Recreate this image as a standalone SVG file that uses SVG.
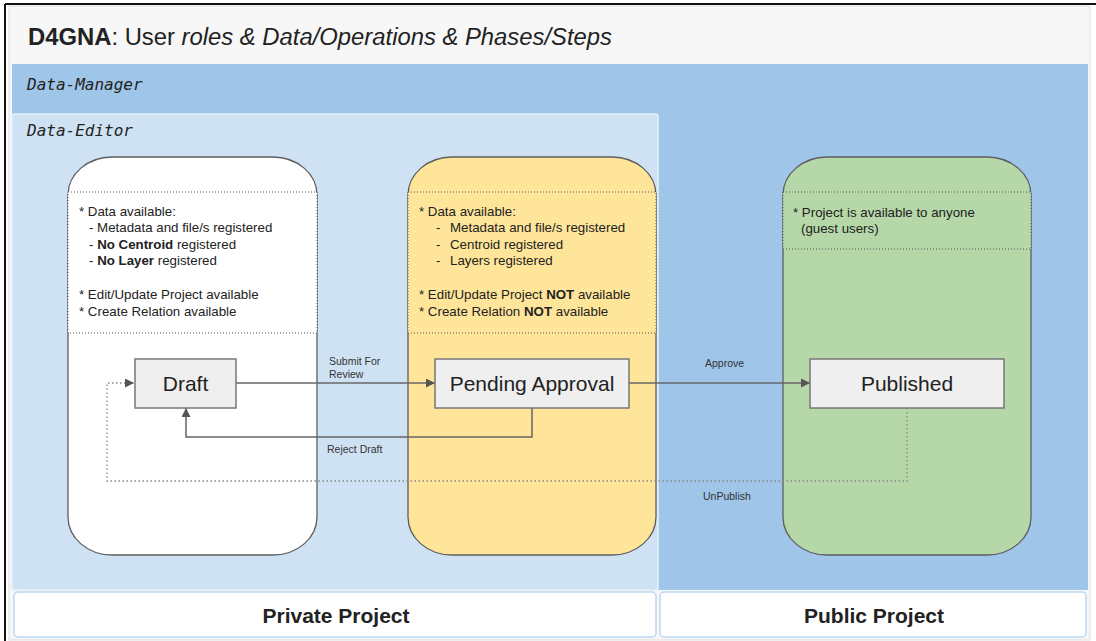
<svg xmlns="http://www.w3.org/2000/svg" width="1096" height="641" viewBox="0 0 1096 641">
<defs>
<marker id="arr" viewBox="0 0 10 10" refX="10" refY="5" markerWidth="9" markerHeight="9" markerUnits="userSpaceOnUse" orient="auto">
<path d="M0,0 L10,5 L0,10 z" fill="#555"/>
</marker>
<style>
text{font-family:"Liberation Sans",Arial,sans-serif;fill:#222}
.mono{font-family:"DejaVu Sans Mono","Liberation Mono",monospace;font-style:italic;font-size:16px;fill:#222}
.body{font-size:13.3px}
.lbl{font-size:10.5px;fill:#333}
.box{fill:#efefef;stroke:#777;stroke-width:1.5}
.boxt{font-size:21px;text-anchor:middle}
.card{stroke:#5e5e5e;stroke-width:1.3}
.sec{stroke:#555;stroke-width:1;stroke-dasharray:1 2}
.lane{fill:#fff;stroke:#bcd7ef;stroke-width:1.5}
.lanet{font-size:21px;font-weight:bold;text-anchor:middle}
.con{fill:none;stroke:#666;stroke-width:1.5}
.dot{fill:none;stroke:#888;stroke-width:1.3;stroke-dasharray:1.5 2.5}
</style>
</defs>

<g id="frame">
<rect x="0" y="0" width="1096" height="641" fill="#ffffff"/>
<rect x="9" y="6" width="1081" height="634" fill="#f7f7f7" stroke="#dddddd" stroke-width="1"/>
<line x1="5" y1="4" x2="1096" y2="4" stroke="#111" stroke-width="2"/>
<line x1="5" y1="4" x2="5" y2="641" stroke="#111" stroke-width="2"/>
<text x="28" y="45" font-size="23.5" textLength="584" lengthAdjust="spacingAndGlyphs"><tspan font-weight="bold">D4GNA</tspan>: User <tspan font-style="italic">roles &amp; Data/Operations &amp; Phases/Steps</tspan></text>
</g>

<g id="data-manager">
<rect x="12" y="64" width="1076" height="526" fill="#9fc5e8"/>
<text class="mono" x="27" y="90">Data-Manager</text>
</g>

<g id="data-editor">
<rect x="12" y="114" width="646" height="476" rx="2" fill="#cfe2f3" stroke="#e6f0fa" stroke-width="1.5"/>
<text class="mono" x="27" y="136">Data-Editor</text>
</g>

<g id="private-project">
<rect class="lane" x="14" y="592" width="642" height="45" rx="4"/>
<text class="lanet" x="336" y="623">Private Project</text>
</g>

<g id="public-project">
<rect class="lane" x="660" y="592" width="426" height="45" rx="4"/>
<text class="lanet" x="874" y="623">Public Project</text>
</g>

<g id="card-draft">
<rect class="card" x="68" y="157" width="249" height="398" rx="44" ry="38" fill="#ffffff"/>
<rect class="sec" x="68" y="192" width="249" height="141" fill="#ffffff"/>
<text class="body" x="79" y="216">* Data available:</text>
<text class="body" x="89" y="232">- Metadata and file/s registered</text>
<text class="body" x="89" y="249">- <tspan font-weight="bold">No Centroid</tspan> registered</text>
<text class="body" x="89" y="265">- <tspan font-weight="bold">No Layer</tspan> registered</text>
<text class="body" x="79" y="299">* Edit/Update Project available</text>
<text class="body" x="79" y="316">* Create Relation available</text>
</g>

<g id="card-pending">
<rect class="card" x="408" y="157" width="248" height="398" rx="44" ry="38" fill="#ffe599"/>
<rect class="sec" x="408" y="192" width="248" height="141" fill="#ffe599"/>
<text class="body" x="419" y="216">* Data available:</text>
<text class="body" x="436" y="232">-</text><text class="body" x="450" y="232">Metadata and file/s registered</text>
<text class="body" x="436" y="249">-</text><text class="body" x="450" y="249">Centroid registered</text>
<text class="body" x="436" y="265">-</text><text class="body" x="450" y="265">Layers registered</text>
<text class="body" x="419" y="299">* Edit/Update Project <tspan font-weight="bold">NOT</tspan> available</text>
<text class="body" x="419" y="316">* Create Relation <tspan font-weight="bold">NOT</tspan> available</text>
</g>

<g id="card-published">
<rect class="card" x="783" y="157" width="248" height="398" rx="44" ry="38" fill="#b6d7a8"/>
<rect class="sec" x="783" y="192" width="248" height="57" fill="#b6d7a8"/>
<text class="body" x="793" y="217">* Project is available to anyone</text>
<text class="body" x="801" y="233">(guest users)</text>
</g>

<g id="connectors">
<line class="con" x1="236" y1="383" x2="435" y2="383" marker-end="url(#arr)"/>
<line class="con" x1="629" y1="383" x2="810" y2="383" marker-end="url(#arr)"/>
<path class="con" d="M532,408 V437 H186 V408" marker-end="url(#arr)"/>
<path class="dot" d="M907,408 V481 H107 V383 H134" marker-end="url(#arr)"/>
<text class="lbl" x="329" y="365">Submit For</text>
<text class="lbl" x="329" y="378">Review</text>
<text class="lbl" x="705" y="367">Approve</text>
<text class="lbl" x="327" y="453">Reject Draft</text>
<text class="lbl" x="703" y="500">UnPublish</text>
</g>

<g id="node-draft">
<rect class="box" x="135" y="359" width="101" height="49"/>
<text class="boxt" x="185.5" y="391">Draft</text>
</g>

<g id="node-pending">
<rect class="box" x="435" y="359" width="194" height="49"/>
<text class="boxt" x="532" y="391">Pending Approval</text>
</g>

<g id="node-published">
<rect class="box" x="810" y="359" width="194" height="49"/>
<text class="boxt" x="907" y="391">Published</text>
</g>
</svg>
